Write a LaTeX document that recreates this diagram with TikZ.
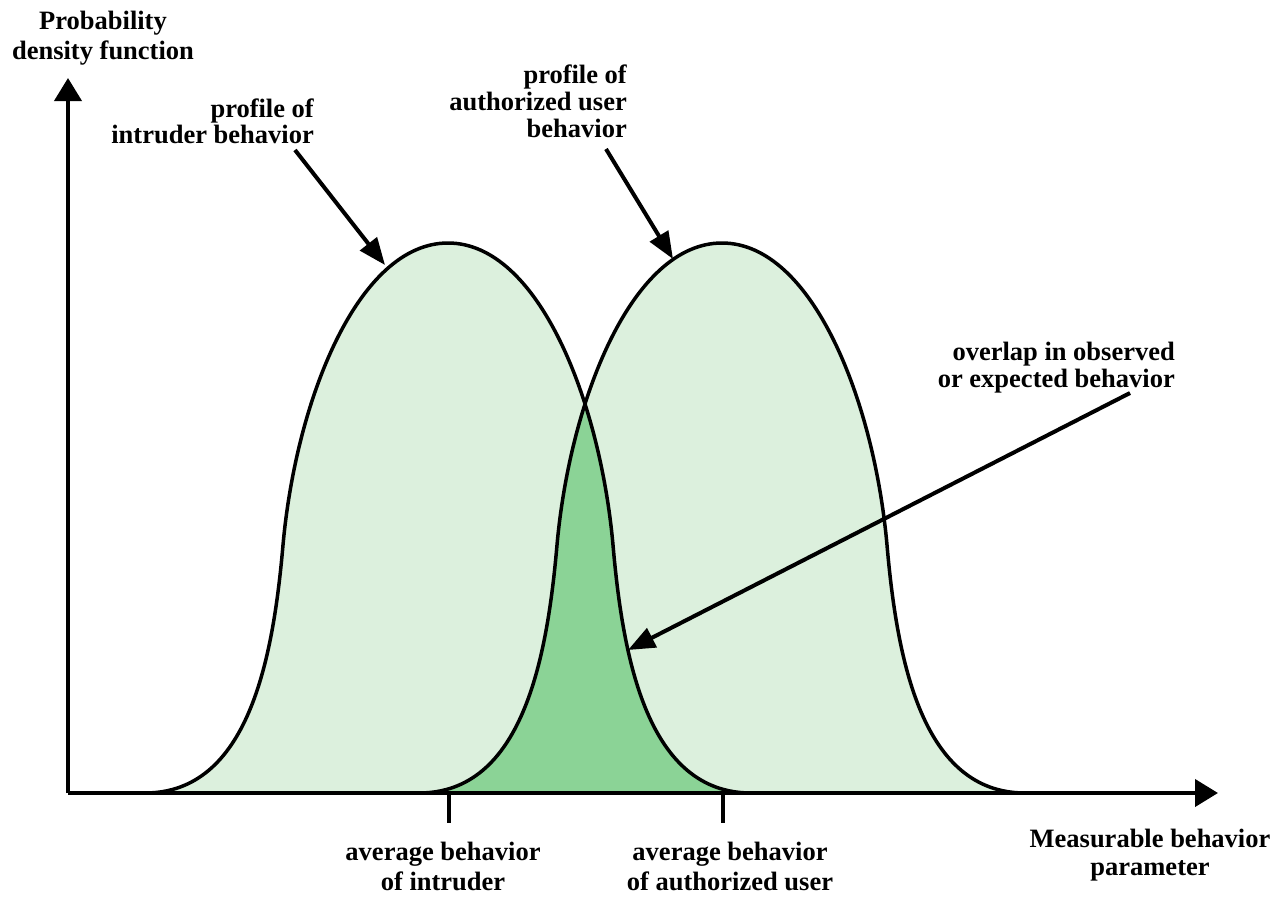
\documentclass[tikz,border=0pt]{standalone}
\usepackage{fontspec}
\setmainfont{Liberation Serif}
\usetikzlibrary{arrows.meta}
\definecolor{lightgr}{RGB}{220,240,221}
\definecolor{darkgr}{RGB}{139,211,150}
\newcommand\bellpath[1]{({#1-303},793) .. controls ({#1-200},793) and ({#1-175},660) .. ({#1-165},545) .. controls ({#1-152},400) and ({#1-90},243) .. (#1,243) .. controls ({#1+90},243) and ({#1+152},400) .. ({#1+165},545) .. controls ({#1+175},660) and ({#1+200},793) .. ({#1+303},793)}
\begin{document}
\begin{tikzpicture}[x=1pt,y=-1pt,
  lbl/.style={inner sep=0pt,font=\fontsize{26.5}{30}\selectfont\bfseries},
  curve/.style={line width=3.5pt},
  axis/.style={line width=4pt,-{Triangle[length=23pt,width=27pt]}},
  pointer/.style={line width=4pt,-{Triangle[length=27pt,width=21pt]}},
  tick/.style={line width=3.5pt}]
\useasboundingbox (0,0) rectangle (1277,897);
% fills
\fill[lightgr] \bellpath{448} -- cycle;
\fill[lightgr] \bellpath{722} -- cycle;
\begin{scope}
  \clip \bellpath{448} -- cycle;
  \fill[darkgr] \bellpath{722} -- cycle;
\end{scope}
% outlines
\draw[curve] \bellpath{448};
\draw[curve] \bellpath{722};
% axes
\coordinate (O) at (68,793);
\coordinate (ytip) at (68,78);
\coordinate (xtip) at (1218,793);
\draw[axis] (O) -- (ytip);
\draw[axis] (O) -- (xtip);
% ticks
\coordinate (t1a) at (449,793);
\coordinate (t1b) at (449,823);
\coordinate (t2a) at (723,793);
\coordinate (t2b) at (723,823);
\draw[tick] (t1a) -- (t1b);
\draw[tick] (t2a) -- (t2b);
% labels
\node[lbl,anchor=base] (py1) at (103,29) {Probability};
\node[lbl,anchor=base] (py2) at (103,59) {density function};
\node[lbl,anchor=base east] (pi1) at (314,117) {profile of};
\node[lbl,anchor=base east] (pi2) at (314,143) {intruder behavior};
\node[lbl,anchor=base east] (pa1) at (627,83) {profile of};
\node[lbl,anchor=base east] (pa2) at (627,110) {authorized user};
\node[lbl,anchor=base east] (pa3) at (627,137) {behavior};
\node[lbl,anchor=base east] (ov1) at (1175,360) {overlap in observed};
\node[lbl,anchor=base east] (ov2) at (1175,387) {or expected behavior};
\node[lbl,anchor=base] (ai1) at (443,860) {average behavior};
\node[lbl,anchor=base] (ai2) at (443,890) {of intruder};
\node[lbl,anchor=base] (au1) at (730,860) {average behavior};
\node[lbl,anchor=base] (au2) at (730,890) {of authorized user};
\node[lbl,anchor=base] (mb1) at (1150,847) {Measurable behavior};
\node[lbl,anchor=base] (mb2) at (1150,875) {parameter};
% pointers
\coordinate (ps1) at (295,150);
\coordinate (pt1) at (385,265);
\coordinate (ps2) at (606,149);
\coordinate (pt2) at (673,259);
\coordinate (ps3) at (1130,393);
\coordinate (pt3) at (628,650);
\draw[pointer] (ps1) -- (pt1);
\draw[pointer] (ps2) -- (pt2);
\draw[pointer] (ps3) -- (pt3);
\end{tikzpicture}
\end{document}
